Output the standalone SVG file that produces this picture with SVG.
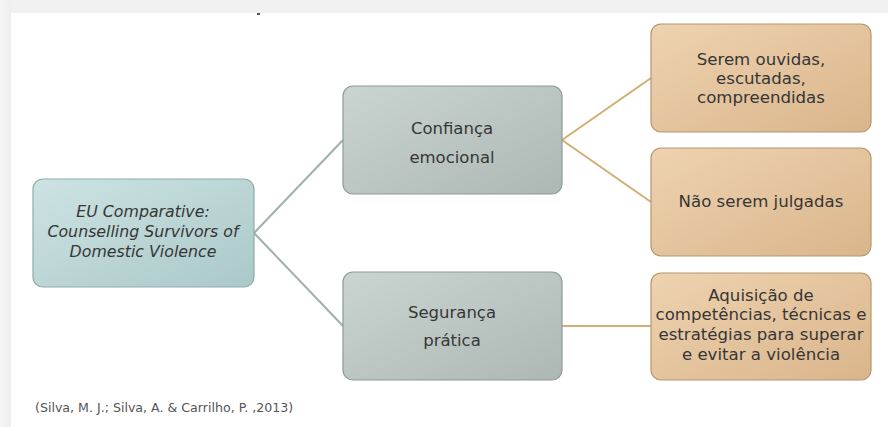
<svg xmlns="http://www.w3.org/2000/svg" width="888" height="427" viewBox="0 0 888 427">
<defs>
<linearGradient id="gRoot" x1="0" y1="0" x2="1" y2="1">
<stop offset="0" stop-color="#cde3e3"/><stop offset="1" stop-color="#abc8c8"/>
</linearGradient>
<linearGradient id="gMid" x1="0" y1="0" x2="1" y2="1">
<stop offset="0" stop-color="#cad4d1"/><stop offset="1" stop-color="#adb8b4"/>
</linearGradient>
<linearGradient id="gTan" x1="0" y1="0" x2="1" y2="1">
<stop offset="0" stop-color="#eed3b0"/><stop offset="1" stop-color="#dab58b"/>
</linearGradient>
<linearGradient id="gLeft" x1="0" y1="0" x2="1" y2="0">
<stop offset="0" stop-color="#f7f7f7"/><stop offset="1" stop-color="#eeeeee"/>
</linearGradient>
</defs>
<style>
.t{font-family:"DejaVu Sans","Liberation Sans",sans-serif;fill:#363636;text-anchor:middle}
.root rect{fill:url(#gRoot);stroke:#8fabab;stroke-width:1.2}
.mid rect{fill:url(#gMid);stroke:#8f9a96;stroke-width:1.2}
.tan rect{fill:url(#gTan);stroke:#b49670;stroke-width:1.2}
.cg{stroke:#9fb0ad;stroke-width:2;fill:none}
.co{stroke:#d4ad74;stroke-width:2;fill:none}
</style>
<rect width="888" height="427" fill="#ffffff"/>
<rect x="0" y="0" width="888" height="13" fill="#f1f1f1"/>
<rect x="0" y="0" width="11" height="427" fill="url(#gLeft)"/>
<rect x="257" y="13" width="3" height="2" fill="#555"/>
<g id="connectors">
<line class="cg" x1="254" y1="233" x2="343" y2="140"/>
<line class="cg" x1="254" y1="233" x2="343" y2="326"/>
<line class="co" x1="562" y1="140" x2="651" y2="78"/>
<line class="co" x1="562" y1="140" x2="651" y2="202"/>
<line class="co" x1="562" y1="326" x2="651" y2="326"/>
</g>
<g id="root" class="root">
<rect x="33" y="179" width="221" height="108" rx="10"/>
<text class="t" font-size="15.8" font-style="italic" x="143" y="217">EU Comparative:</text>
<text class="t" font-size="15.8" font-style="italic" x="143" y="237">Counselling Survivors of</text>
<text class="t" font-size="15.8" font-style="italic" x="143" y="257">Domestic Violence</text>
</g>
<g id="confianca" class="mid">
<rect x="343" y="86" width="219" height="108" rx="10"/>
<text class="t" font-size="16.5" x="452" y="134">Confiança</text>
<text class="t" font-size="16.5" x="452" y="163">emocional</text>
</g>
<g id="seguranca" class="mid">
<rect x="343" y="272" width="219" height="108" rx="10"/>
<text class="t" font-size="16.5" x="452" y="318">Segurança</text>
<text class="t" font-size="16.5" x="452" y="346">prática</text>
</g>
<g id="serem" class="tan">
<rect x="651" y="24" width="220" height="108" rx="10"/>
<text class="t" font-size="16.6" x="761" y="65">Serem ouvidas,</text>
<text class="t" font-size="16.6" x="761" y="84">escutadas,</text>
<text class="t" font-size="16.6" x="761" y="103">compreendidas</text>
</g>
<g id="nao" class="tan">
<rect x="651" y="148" width="220" height="108" rx="10"/>
<text class="t" font-size="16.6" x="761" y="207">Não serem julgadas</text>
</g>
<g id="aquisicao" class="tan">
<rect x="651" y="273" width="220" height="107" rx="10"/>
<text class="t" font-size="16.6" x="761" y="301">Aquisição de</text>
<text class="t" font-size="16.6" x="761" y="320">competências, técnicas e</text>
<text class="t" font-size="16.6" x="761" y="340">estratégias para superar</text>
<text class="t" font-size="16.6" x="761" y="360">e evitar a violência</text>
</g>
<text font-family="DejaVu Sans, Liberation Sans, sans-serif" font-size="12.6" fill="#555" x="35" y="412">(Silva, M. J.; Silva, A. &amp; Carrilho, P. ,2013)</text>
</svg>
